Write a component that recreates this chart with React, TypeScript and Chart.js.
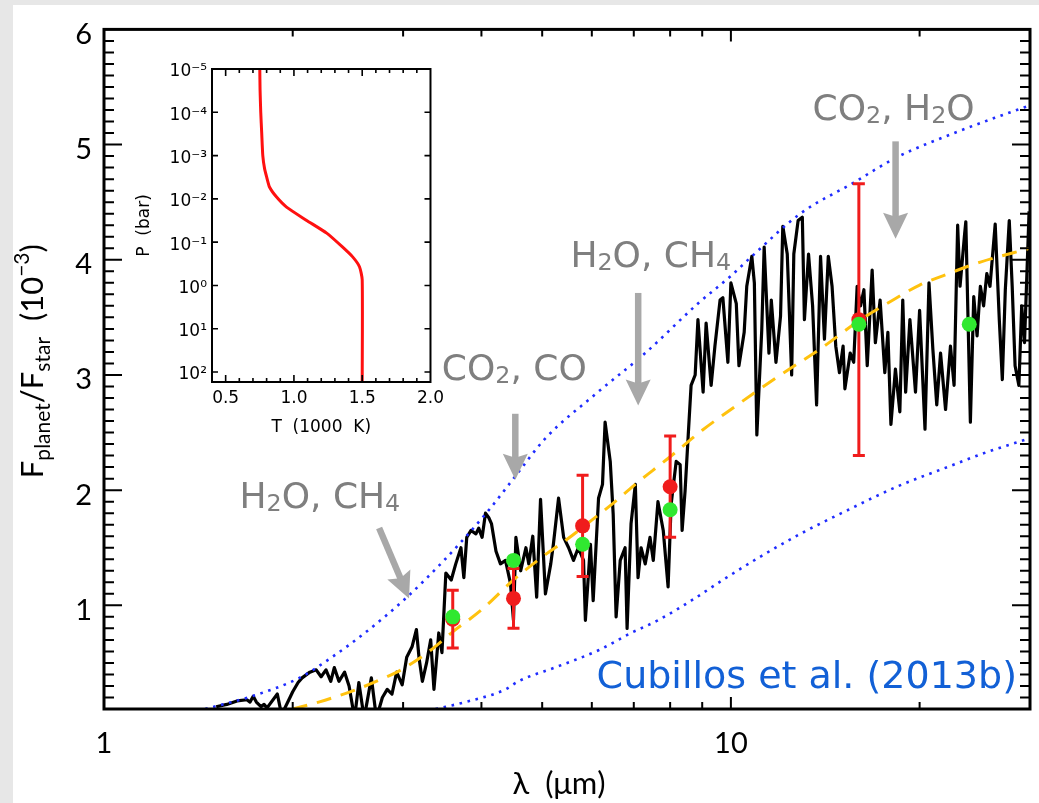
import React, { useEffect, useRef } from 'react';
import { Chart, registerables } from 'chart.js';

Chart.register(...registerables);

// Emission spectrum: wavelength (µm) and planet/star flux ratio (1e-3)
const specLam = [
  1.51, 1.57, 1.63, 1.69, 1.71, 1.73, 1.75, 1.78, 1.80, 1.82,
  1.89, 1.92, 1.98, 2.00, 2.04, 2.07, 2.13, 2.18, 2.22, 2.26,
  2.30, 2.33, 2.37, 2.42, 2.46, 2.51, 2.55, 2.60, 2.67, 2.72,
  2.78, 2.83, 2.88, 2.93, 2.99, 3.04, 3.10, 3.15, 3.18, 3.22,
  3.27, 3.32, 3.36, 3.42, 3.46, 3.51, 3.58, 3.64, 3.71, 3.75,
  3.79, 3.85, 3.92, 3.96, 4.01, 4.06, 4.11, 4.15, 4.22, 4.29,
  4.37, 4.45, 4.50, 4.54, 4.62, 4.71, 4.76, 4.83, 4.90, 4.97,
  5.06, 5.16, 5.21, 5.31, 5.41, 5.51, 5.61, 5.71, 5.82, 5.86,
  5.97, 6.03, 6.15, 6.24, 6.30, 6.42, 6.49, 6.56, 6.66, 6.78,
  6.83, 6.93, 7.04, 7.11, 7.19, 7.30, 7.43, 7.52, 7.65, 7.80,
  7.94, 8.03, 8.18, 8.30, 8.36, 8.45, 8.55, 8.64, 8.77, 8.86,
  9.03, 9.13, 9.30, 9.43, 9.61, 9.71, 9.89, 10.0, 10.2, 10.3,
  10.5, 10.6, 10.8, 10.9, 11.0, 11.2, 11.3, 11.5, 11.6, 11.8,
  12.0, 12.1, 12.3, 12.5, 12.6, 12.8, 13.0, 13.1, 13.3, 13.5,
  13.7, 13.9, 14.1, 14.3, 14.5, 14.7, 14.9, 15.1, 15.2, 15.5,
  15.7, 15.9, 16.1, 16.3, 16.5, 16.8, 17.0, 17.3, 17.6, 17.8,
  18.0, 18.3, 18.6, 18.8, 19.0, 19.3, 19.7, 20.0, 20.4, 20.7,
  21.0, 21.3, 21.6, 22.0, 22.4, 22.7, 23.0, 23.2, 23.6, 23.7,
  24.1, 24.4, 24.7, 25.0, 25.3, 25.6, 25.9, 26.4, 26.8, 27.1,
  27.4, 27.8, 28.1, 28.4, 28.8, 29.1, 29.4, 29.9,
];
const specFlux = [
  0.12, 0.14, 0.17, 0.18, 0.16, 0.21, 0.16, 0.12, 0.14, 0.11,
  0.23, 0.05, 0.20, 0.25, 0.33, 0.37, 0.42, 0.44, 0.38, 0.44,
  0.34, 0.46, 0.34, 0.42, 0.30, 0.02, 0.33, 0.02, 0.37, 0.02,
  0.20, 0.27, 0.23, 0.42, 0.31, 0.55, 0.64, 0.79, 0.55, 0.34,
  0.50, 0.70, 0.27, 0.76, 0.59, 1.28, 1.22, 1.36, 1.50, 1.24,
  1.59, 1.65, 1.62, 1.67, 1.59, 1.80, 1.76, 1.71, 1.47, 1.36,
  1.39, 1.19, 0.87, 1.59, 1.30, 1.50, 1.36, 1.60, 1.07, 1.92,
  1.10, 1.36, 1.53, 1.93, 1.59, 1.50, 1.39, 1.50, 1.39, 0.87,
  1.53, 1.04, 1.93, 2.05, 2.59, 2.25, 1.79, 0.90, 1.39, 1.50,
  0.80, 1.71, 2.05, 1.24, 1.50, 1.36, 1.59, 1.39, 1.90, 1.65,
  1.16, 1.88, 2.25, 2.22, 1.65, 1.99, 2.48, 2.91, 3.00, 3.48,
  2.85, 3.45, 2.91, 3.25, 3.65, 3.67, 3.11, 3.80, 3.62, 3.08,
  3.37, 3.77, 4.03, 3.80, 2.48, 3.39, 4.11, 3.19, 3.65, 3.11,
  3.51, 4.29, 4.05, 3.00, 4.05, 4.34, 4.37, 3.48, 4.05, 3.60,
  2.74, 4.03, 3.31, 4.03, 3.77, 3.25, 3.02, 3.25, 2.88, 3.19,
  3.11, 3.77, 3.60, 3.74, 3.08, 3.91, 3.28, 3.65, 3.02, 3.37,
  2.57, 3.05, 2.68, 3.65, 2.85, 3.48, 2.85, 3.56, 2.53, 3.80,
  3.22, 2.74, 3.19, 2.70, 3.25, 2.91, 4.30, 3.77, 4.23, 4.33,
  2.59, 3.68, 3.34, 3.77, 3.60, 3.88, 3.77, 4.31, 3.48, 2.96,
  3.74, 4.34, 3.77, 3.08, 2.91, 3.60, 3.28, 4.42,
];

// Best-fit model (dashed)
const modelLam = [2.0, 2.2, 2.5, 2.8, 3.0, 3.3, 3.6, 4.0, 4.5, 5.0, 5.5, 6.0, 6.5, 7.0, 7.5, 8.0, 9.0, 10, 11, 12, 14, 16, 18, 20, 22, 25, 30];
const modelFlux = [0.10, 0.16, 0.26, 0.37, 0.45, 0.60, 0.77, 0.96, 1.22, 1.42, 1.58, 1.74, 1.89, 2.04, 2.17, 2.29, 2.52, 2.70, 2.86, 3.00, 3.24, 3.47, 3.64, 3.78, 3.87, 3.98, 4.10];

// Blackbody envelopes (dotted)
const upperLam = [1.45, 1.72, 2.05, 2.31, 2.62, 3.0, 3.5, 4.1, 4.5, 5.06, 6.07, 7.3, 8.86, 10.0, 10.8, 12.9, 15.7, 18.4, 22.7, 26.6, 30];
const upperFlux = [0.10, 0.21, 0.37, 0.55, 0.77, 1.04, 1.40, 1.82, 2.10, 2.45, 2.83, 3.19, 3.62, 3.86, 4.03, 4.40, 4.67, 4.89, 5.10, 5.24, 5.34];
const lowerLam = [3.38, 3.77, 4.37, 4.58, 5.3, 6.15, 6.93, 7.65, 8.64, 9.77, 11.2, 12.8, 15.4, 18.4, 21.9, 25.6, 30];
const lowerFlux = [0.10, 0.16, 0.27, 0.34, 0.47, 0.61, 0.76, 0.87, 1.04, 1.23, 1.43, 1.61, 1.83, 2.03, 2.19, 2.33, 2.45];

// Observed eclipse depths and band-integrated model
const redLam = [3.6, 4.5, 5.8, 8.0, 16.0];
const redVal = [0.88, 1.06, 1.69, 2.03, 3.48];
const redErr = [0.25, 0.26, 0.44, 0.44, 1.18];
const greenLam = [3.6, 4.5, 5.8, 8.0, 16.0, 24.0];
const greenVal = [0.90, 1.39, 1.53, 1.83, 3.44, 3.44];

// Axis ticks
const xTickValues = [1, 10];
const xMinorTicks = [2, 3, 4, 5, 6, 7, 8, 9, 20];
const yTickValues = [1, 2, 3, 4, 5, 6];

// Absorber notes with arrows (data coordinates)
const noteText = ['H₂O, CH₄', 'CO₂, CO', 'H₂O, CH₄', 'CO₂, H₂O'];
const noteLam = [1.645, 3.459, 5.546, 13.5];
const noteVal = [1.959, 3.073, 4.054, 5.327];
const arrowFromLam = [2.747, 4.53, 7.114, 18.31];
const arrowFromVal = [1.671, 2.663, 3.712, 5.028];
const arrowToLam = [3.066, 4.53, 7.114, 18.31];
const arrowToVal = [1.06, 2.09, 2.735, 4.183];
const citeText = 'Cubillos et al. (2013b)';
const citeLam = 28.6;
const citeVal = 0.406;

// Inset: temperature-pressure profile
const profileT = [0.75, 0.752, 0.757, 0.764, 0.772, 0.785, 0.80, 0.822, 0.873, 0.946, 1.09, 1.24, 1.355, 1.43, 1.48, 1.50, 1.50];
const profileP = [1e-5, 3e-5, 1e-4, 3e-4, 1e-3, 2e-3, 3.1e-3, 5.4e-3, 9.1e-3, 1.55e-2, 3.1e-2, 6.2e-2, 0.129, 0.219, 0.37, 0.74, 170];
const insetTTicks = [0.5, 1.0, 1.5, 2.0];
const insetPTicks = [1e-5, 1e-4, 1e-3, 1e-2, 1e-1, 1, 10, 100];

const AXIS_FONT = 'Lato, "DejaVu Sans", sans-serif';
const NOTE_FONT = '"DejaVu Sans", sans-serif';
const SUBS: Record<string, string> = { '₀': '0', '₁': '1', '₂': '2', '₃': '3', '₄': '4', '₅': '5', '₆': '6', '₇': '7', '₈': '8', '₉': '9' };
const SUPS: Record<string, string> = { '-': '⁻', '0': '⁰', '1': '¹', '2': '²', '3': '³', '4': '⁴', '5': '⁵', '6': '⁶', '7': '⁷', '8': '⁸', '9': '⁹' };

const powerLabel = (v: number) =>
  '10' + String(Math.round(Math.log10(v))).split('').map((c) => SUPS[c]).join('');

function drawNote(ctx: CanvasRenderingContext2D, text: string, x: number, yMid: number, size: number, color: string, align: 'left' | 'right') {
  const runs: { t: string; sub: boolean }[] = [];
  for (const ch of text) {
    const sub = ch in SUBS;
    const c = sub ? SUBS[ch] : ch;
    const last = runs[runs.length - 1];
    if (last && last.sub === sub) last.t += c;
    else runs.push({ t: c, sub });
  }
  const fontFor = (sub: boolean) => `${sub ? size * 0.66 : size}px ${NOTE_FONT}`;
  const widths = runs.map((r) => {
    ctx.font = fontFor(r.sub);
    return ctx.measureText(r.t).width;
  });
  const total = widths.reduce((a, b) => a + b, 0);
  let cx = align === 'right' ? x - total : x;
  const base = yMid + (size * 0.729) / 2;
  ctx.fillStyle = color;
  ctx.textAlign = 'left';
  ctx.textBaseline = 'alphabetic';
  runs.forEach((r, i) => {
    ctx.font = fontFor(r.sub);
    ctx.fillText(r.t, cx, base + (r.sub ? size * 0.085 : 0));
    cx += widths[i];
  });
}

function drawArrow(ctx: CanvasRenderingContext2D, x1: number, y1: number, x2: number, y2: number) {
  const ang = Math.atan2(y2 - y1, x2 - x1);
  const cos = Math.cos(ang);
  const sin = Math.sin(ang);
  const head = 26;
  const half = 12.5;
  const bx = x2 - head * cos;
  const by = y2 - head * sin;
  ctx.strokeStyle = '#a8a8a8';
  ctx.fillStyle = '#a8a8a8';
  ctx.lineWidth = 6.5;
  ctx.lineCap = 'butt';
  ctx.beginPath();
  ctx.moveTo(x1, y1);
  ctx.lineTo(bx + 6 * cos, by + 6 * sin);
  ctx.stroke();
  ctx.beginPath();
  ctx.moveTo(x2, y2);
  ctx.lineTo(bx - half * sin, by + half * cos);
  ctx.lineTo(bx + 4 * cos, by + 4 * sin);
  ctx.lineTo(bx + half * sin, by - half * cos);
  ctx.closePath();
  ctx.fill();
}

const mainFrame = {
  id: 'mainFrame',
  afterDraw(chart: any) {
    const { ctx, chartArea } = chart;
    const { left, right, top, bottom } = chartArea;
    const xs = chart.scales.x;
    const ys = chart.scales.y;
    ctx.save();

    // inward ticks on all four sides
    ctx.strokeStyle = '#000';
    ctx.lineWidth = 2;
    ctx.lineCap = 'butt';
    ctx.beginPath();
    [...xMinorTicks, ...xTickValues].forEach((v) => {
      const px = xs.getPixelForValue(v);
      if (px <= left + 1 || px >= right - 1) return;
      const len = xTickValues.includes(v) ? 12 : 7;
      ctx.moveTo(px, bottom);
      ctx.lineTo(px, bottom - len);
      ctx.moveTo(px, top);
      ctx.lineTo(px, top + len);
    });
    for (let k = 2; k < 60; k++) {
      const py = ys.getPixelForValue(k / 10);
      const len = k % 10 === 0 ? 18 : 10;
      ctx.moveTo(left, py);
      ctx.lineTo(left + len, py);
      ctx.moveTo(right, py);
      ctx.lineTo(right - len, py);
    }
    ctx.stroke();
    ctx.lineWidth = 3;
    ctx.strokeRect(left, top, right - left, bottom - top);

    // y title with sub/superscripts, rotated
    const parts: [string, number, number][] = [
      ['F', 31, 0], ['planet', 21, 7], ['/', 31, 0], ['F', 31, 0], ['star', 21, 7],
      ['  (10', 31, 0], ['−3', 21, -14], [')', 31, 0],
    ];
    ctx.fillStyle = '#000';
    ctx.textAlign = 'left';
    ctx.textBaseline = 'alphabetic';
    const widths = parts.map(([t, s]) => {
      ctx.font = `${s}px ${AXIS_FONT}`;
      return ctx.measureText(t).width;
    });
    const total = widths.reduce((a, b) => a + b, 0);
    ctx.save();
    ctx.translate(left - 61, (top + bottom) / 2 - 8);
    ctx.rotate(-Math.PI / 2);
    let cx = -total / 2;
    parts.forEach(([t, s, dy], i) => {
      ctx.font = `${s}px ${AXIS_FONT}`;
      ctx.fillText(t, cx, dy);
      cx += widths[i];
    });
    ctx.restore();

    // x title
    ctx.font = `31px ${AXIS_FONT}`;
    ctx.textAlign = 'center';
    ctx.fillText('λ  (μm)', (left + right) / 2 - 8, bottom + 85);

    // absorber notes and arrows
    noteText.forEach((t, i) => {
      drawArrow(
        ctx,
        xs.getPixelForValue(arrowFromLam[i]), ys.getPixelForValue(arrowFromVal[i]),
        xs.getPixelForValue(arrowToLam[i]), ys.getPixelForValue(arrowToVal[i]),
      );
      drawNote(ctx, t, xs.getPixelForValue(noteLam[i]), ys.getPixelForValue(noteVal[i]), 36, '#7f7f7f', 'left');
    });
    drawNote(ctx, citeText, xs.getPixelForValue(citeLam), ys.getPixelForValue(citeVal), 38, '#1260d6', 'right');
    ctx.restore();
  },
};

const insetFrame = {
  id: 'insetFrame',
  afterDraw(chart: any) {
    const { ctx, chartArea } = chart;
    const { left, right, top, bottom } = chartArea;
    const xs = chart.scales.x;
    const ys = chart.scales.y;
    ctx.save();
    ctx.strokeStyle = '#000';
    ctx.lineWidth = 1.6;
    ctx.beginPath();
    for (let k = 5; k < 20; k++) {
      const px = xs.getPixelForValue(k / 10);
      const len = k % 5 === 0 ? 7 : 4;
      ctx.moveTo(px, bottom);
      ctx.lineTo(px, bottom - len);
      ctx.moveTo(px, top);
      ctx.lineTo(px, top + len);
    }
    insetPTicks.forEach((p) => {
      const py = ys.getPixelForValue(p);
      if (py <= top + 1) return;
      ctx.moveTo(left, py);
      ctx.lineTo(left + 6, py);
      ctx.moveTo(right, py);
      ctx.lineTo(right - 6, py);
    });
    ctx.stroke();
    ctx.lineWidth = 2;
    ctx.strokeRect(left, top, right - left, bottom - top);
    ctx.restore();
  },
};

function mainConfig(): any {
  const bars: { x: number; y: number | null }[] = [];
  redLam.forEach((x, i) => {
    bars.push({ x, y: redVal[i] - redErr[i] }, { x, y: redVal[i] + redErr[i] }, { x, y: null });
  });
  const caps = redLam.flatMap((x, i) => [
    { x, y: redVal[i] - redErr[i] },
    { x, y: redVal[i] + redErr[i] },
  ]);
  const pts = (xs: number[], ys: number[]) => xs.map((x, i) => ({ x, y: ys[i] }));
  return {
    type: 'line',
    data: {
      datasets: [
        {
          type: 'scatter', label: 'model bands', data: pts(greenLam, greenVal), order: 0,
          pointRadius: 7.5, pointBackgroundColor: '#30e830', pointBorderColor: '#30e830', pointBorderWidth: 0,
        },
        {
          type: 'scatter', label: 'observed', data: pts(redLam, redVal), order: 1,
          pointRadius: 7.5, pointBackgroundColor: '#f01c1c', pointBorderColor: '#f01c1c', pointBorderWidth: 0,
        },
        {
          type: 'scatter', label: 'caps', data: caps, order: 2,
          pointStyle: 'line', pointRadius: 6, pointBorderColor: '#f01c1c', pointBorderWidth: 3,
        },
        {
          label: 'errors', data: bars, order: 2, spanGaps: false,
          borderColor: '#f01c1c', borderWidth: 3, pointRadius: 0,
        },
        {
          label: 'upper', data: pts(upperLam, upperFlux), order: 3,
          borderColor: '#1f2cff', borderWidth: 2.6, borderDash: [2.6, 5.6], pointRadius: 0,
          cubicInterpolationMode: 'monotone',
        },
        {
          label: 'lower', data: pts(lowerLam, lowerFlux), order: 3,
          borderColor: '#1f2cff', borderWidth: 2.6, borderDash: [2.6, 5.6], pointRadius: 0,
          cubicInterpolationMode: 'monotone',
        },
        {
          label: 'model', data: pts(modelLam, modelFlux), order: 3,
          borderColor: '#ffc20e', borderWidth: 3, borderDash: [15, 10], pointRadius: 0,
          cubicInterpolationMode: 'monotone',
        },
        {
          label: 'spectrum', data: pts(specLam, specFlux), order: 4,
          borderColor: '#000', borderWidth: 3.2, pointRadius: 0, borderJoinStyle: 'round',
        },
      ],
    },
    options: {
      responsive: false,
      animation: false,
      events: [],
      layout: { padding: { left: 0, right: 6, top: 24, bottom: 0 } },
      plugins: { legend: { display: false }, tooltip: { enabled: false } },
      scales: {
        x: {
          type: 'logarithmic', position: 'bottom', min: 1, max: 30,
          grid: { display: false, drawTicks: false }, border: { display: false },
          afterFit: (s: any) => { s.height = 94; },
          afterBuildTicks: (s: any) => { s.ticks = xTickValues.map((v) => ({ value: v })); },
          ticks: {
            autoSkip: false, maxRotation: 0, padding: 17, color: '#000',
            font: { family: AXIS_FONT, size: 29 },
            callback: (v: any) => String(v),
          },
        },
        y: {
          type: 'linear', position: 'left', min: 0.1, max: 6,
          grid: { display: false, drawTicks: false }, border: { display: false },
          afterFit: (s: any) => { s.width = 104; },
          afterBuildTicks: (s: any) => { s.ticks = yTickValues.map((v) => ({ value: v })); },
          ticks: {
            autoSkip: false, padding: 12, labelOffset: 5, color: '#000',
            font: { family: AXIS_FONT, size: 29 },
            callback: (v: any) => String(v),
          },
        },
      },
    },
    plugins: [mainFrame],
  };
}

function insetConfig(): any {
  return {
    type: 'line',
    data: {
      datasets: [
        {
          label: 'T-P profile',
          data: profileT.map((t, i) => ({ x: t, y: profileP[i] })),
          borderColor: '#ff1010', borderWidth: 3, pointRadius: 0, tension: 0.2,
        },
      ],
    },
    options: {
      responsive: false,
      animation: false,
      events: [],
      layout: { padding: { left: 0, right: 18, top: 19, bottom: 0 } },
      plugins: { legend: { display: false }, tooltip: { enabled: false } },
      scales: {
        x: {
          type: 'linear', min: 0.4, max: 2.0,
          grid: { display: false, drawTicks: false }, border: { display: false },
          afterFit: (s: any) => { s.height = 63; },
          afterBuildTicks: (s: any) => { s.ticks = insetTTicks.map((v) => ({ value: v })); },
          ticks: {
            autoSkip: false, maxRotation: 0, padding: 6, color: '#000',
            font: { family: NOTE_FONT, size: 17 },
            callback: (v: any) => Number(v).toFixed(1),
          },
          title: {
            display: true, text: 'T  (1000  K)', color: '#000',
            font: { family: NOTE_FONT, size: 17 }, padding: { top: 0, bottom: 7 },
          },
        },
        y: {
          type: 'logarithmic', reverse: true, min: 1e-5, max: 170,
          grid: { display: false, drawTicks: false }, border: { display: false },
          afterFit: (s: any) => { s.width = 92; },
          afterBuildTicks: (s: any) => { s.ticks = insetPTicks.map((v) => ({ value: v })); },
          ticks: {
            autoSkip: false, padding: 5, labelOffset: 3, color: '#000',
            font: { family: NOTE_FONT, size: 17 },
            callback: (v: any) => powerLabel(Number(v)),
          },
          title: {
            display: true, text: 'P  (bar)', color: '#000',
            font: { family: NOTE_FONT, size: 17 }, padding: { top: 14, bottom: 0 },
          },
        },
      },
    },
    plugins: [insetFrame],
  };
}

export default function App() {
  const mainRef = useRef<HTMLCanvasElement>(null);
  const insetRef = useRef<HTMLCanvasElement>(null);

  useEffect(() => {
    const main = new Chart(mainRef.current as HTMLCanvasElement, mainConfig());
    const inset = new Chart(insetRef.current as HTMLCanvasElement, insetConfig());
    return () => {
      main.destroy();
      inset.destroy();
    };
  }, []);

  return (
    <div style={{ position: 'fixed', left: 0, top: 0, width: 1039, height: 803, overflow: 'hidden', background: '#e7e7e7' }}>
      <div style={{ position: 'absolute', left: 13, top: 5, right: 0, bottom: 0, background: '#ffffff' }} />
      <canvas
        ref={mainRef}
        width={1039}
        height={803}
        style={{ position: 'absolute', left: 0, top: 0, width: 1039, height: 803 }}
      />
      <canvas
        ref={insetRef}
        width={330}
        height={395}
        style={{ position: 'absolute', left: 120, top: 50, width: 330, height: 395 }}
      />
    </div>
  );
}
